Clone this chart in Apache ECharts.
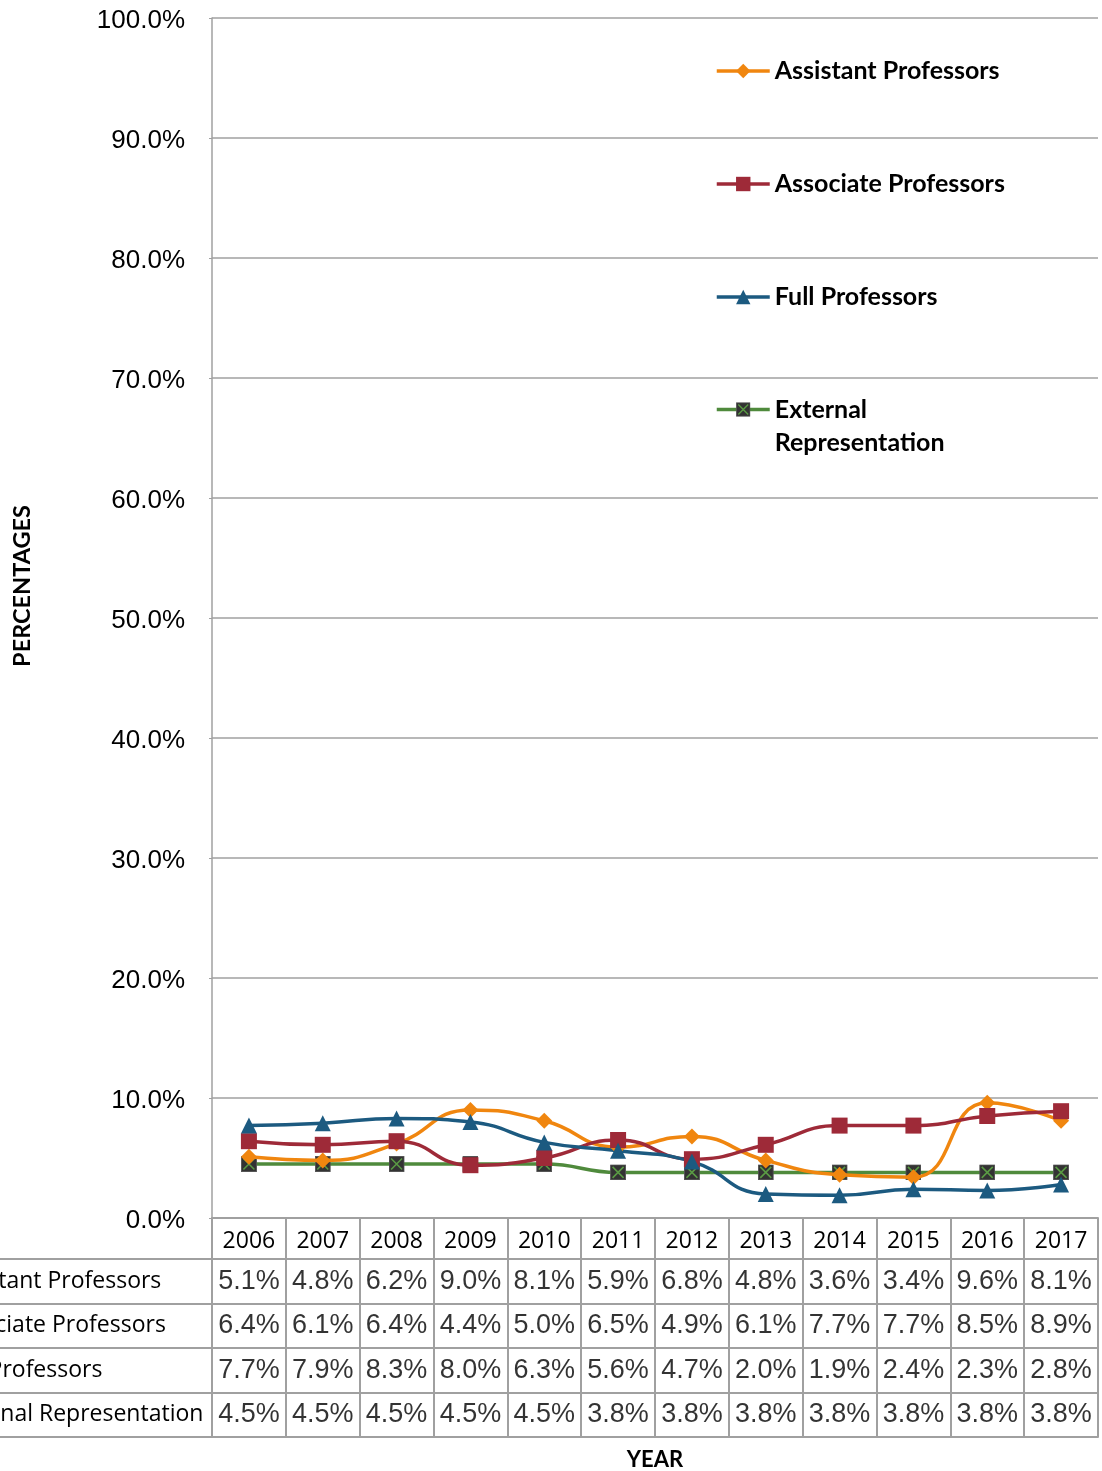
<!DOCTYPE html>
<html>
<head>
<meta charset="utf-8">
<script src="https://cdn.jsdelivr.net/npm/echarts@6/dist/echarts.min.js"></script>
<style>
  html, body { margin: 0; padding: 0; background: #fff; }
  #chart { width: 1102px; height: 1471px; }
</style>
</head>
<body>
<div id="chart"></div>
<script>
// Faculty percentages by rank, 2006–2017
const years = ['2006', '2007', '2008', '2009', '2010', '2011', '2012', '2013', '2014', '2015', '2016', '2017'];
const seriesNames = ['Assistant Professors', 'Associate Professors', 'Full Professors', 'External Representation'];
const assistant = [5.1, 4.8, 6.2, 9.0, 8.1, 5.9, 6.8, 4.8, 3.6, 3.4, 9.6, 8.1];
const associate = [6.4, 6.1, 6.4, 4.4, 5.0, 6.5, 4.9, 6.1, 7.7, 7.7, 8.5, 8.9];
const full = [7.7, 7.9, 8.3, 8.0, 6.3, 5.6, 4.7, 2.0, 1.9, 2.4, 2.3, 2.8];
const external = [4.5, 4.5, 4.5, 4.5, 4.5, 3.8, 3.8, 3.8, 3.8, 3.8, 3.8, 3.8];

const rows = [assistant, associate, full, external];
const colors = ['#F0860F', '#9E2A38', '#1C5A80', '#4F8A3C'];
const gridColor = '#a0a0a0';

// dark square crossed in green, for the external series
const xBoxSvg = "<svg xmlns='http://www.w3.org/2000/svg' width='16' height='16'>" +
  "<rect x='0.5' y='0.5' width='15' height='15' fill='#333333' stroke='#555555'/>" +
  "<path d='M2.5 2.5L13.5 13.5M13.5 2.5L2.5 13.5' stroke='#5a9a44' stroke-width='1.6'/></svg>";
const xBoxSymbol = 'image://data:image/svg+xml;charset=utf-8,' + encodeURIComponent(xBoxSvg);

const symbols = ['diamond', 'rect', 'triangle', xBoxSymbol];
const symbolSizes = [16, 16, 16, 16];

// table cells: [column, row, value]
const cells = [];
rows.forEach((arr, r) => arr.forEach((v, c) => cells.push([c, r, v])));

const chart = echarts.init(document.getElementById('chart'), null, { renderer: 'canvas' });

const lineSeries = seriesNames.map((name, i) => ({
  name,
  type: 'line',
  xAxisIndex: 0,
  yAxisIndex: 0,
  data: rows[i],
  smooth: 0.5,
  symbol: symbols[i],
  symbolSize: symbolSizes[i],
  showAllSymbol: true,
  lineStyle: { color: colors[i], width: 3.5 },
  itemStyle: { color: colors[i] },
  z: i === 3 ? 2 : 3
}));

const legendText = {
  fontFamily: 'Lato',
  fontWeight: 'bold',
  fontSize: 25,
  color: '#000',
  lineHeight: 33
};

chart.setOption({
  animation: false,
  backgroundColor: '#ffffff',
  grid: [
    { left: 212, top: 18, width: 886, height: 1200, outerBoundsMode: 'none' },
    { left: 212, top: 1259, width: 886, height: 178, outerBoundsMode: 'none' }
  ],
  legend: [
    {
      orient: 'vertical',
      left: 715,
      top: 54.5,
      padding: 0,
      itemWidth: 53,
      itemHeight: 18,
      itemGap: 80,
      lineStyle: { width: 3.5 },
      textStyle: legendText,
      data: seriesNames.slice(0, 3)
    },
    {
      orient: 'vertical',
      left: 715,
      top: 360,
      padding: 0,
      itemWidth: 53,
      itemHeight: 18,
      lineStyle: { width: 3.5 },
      // leading blank line keeps the marker level with the first word
      formatter: () => '\nExternal\nRepresentation',
      textStyle: legendText,
      data: [seriesNames[3]]
    }
  ],
  xAxis: [
    {
      type: 'category',
      gridIndex: 0,
      data: years,
      boundaryGap: true,
      axisLine: { show: true, lineStyle: { color: gridColor, width: 2 } },
      axisTick: { show: true, interval: 0, length: 41, lineStyle: { color: gridColor, width: 2 } },
      axisLabel: { interval: 0, margin: 12, fontFamily: 'Open Sans', fontSize: 23, color: '#000' },
      splitLine: { show: false }
    },
    {
      type: 'category',
      gridIndex: 1,
      data: years,
      boundaryGap: true,
      axisLine: { show: true, lineStyle: { color: gridColor, width: 2 } },
      axisTick: { show: false },
      axisLabel: { show: false },
      splitLine: { show: true, interval: 0, lineStyle: { color: gridColor, width: 2 } },
      name: 'YEAR',
      nameLocation: 'middle',
      nameGap: 12,
      nameTextStyle: { fontFamily: 'Lato', fontWeight: 'bold', fontSize: 22, color: '#000' }
    }
  ],
  yAxis: [
    {
      type: 'value',
      gridIndex: 0,
      min: 0,
      max: 100,
      interval: 10,
      axisLine: { show: true, lineStyle: { color: gridColor, width: 1.5 } },
      axisTick: { show: true, length: 3, lineStyle: { color: gridColor } },
      axisLabel: {
        formatter: v => '{v|' + v.toFixed(1) + '%}',
        margin: 27,
        rich: {
          v: {
            fontFamily: 'Liberation Sans',
            fontSize: 26,
            color: '#000',
            padding: [6, 0, 0, 0]
          }
        }
      },
      splitLine: { show: true, lineStyle: { color: gridColor, width: 1.5 } }
    },
    {
      type: 'category',
      gridIndex: 1,
      data: seriesNames,
      inverse: true,
      axisLine: { show: true, lineStyle: { color: gridColor, width: 2 } },
      axisTick: { show: true, interval: 0, length: 212, lineStyle: { color: gridColor, width: 2 } },
      axisLabel: {
        interval: 0,
        align: 'left',
        margin: 267,
        fontFamily: 'Open Sans',
        fontSize: 23,
        color: '#000'
      },
      splitLine: { show: true, interval: 0, lineStyle: { color: gridColor, width: 2 } }
    }
  ],
  graphic: [
    {
      type: 'text',
      x: 22,
      y: 586,
      rotation: Math.PI / 2,
      style: {
        text: 'PERCENTAGES',
        fontFamily: 'Lato',
        fontWeight: 'bold',
        fontSize: 23.5,
        fill: '#000',
        align: 'center',
        verticalAlign: 'middle'
      }
    }
  ],
  series: lineSeries.concat([
    {
      name: 'table',
      type: 'scatter',
      xAxisIndex: 1,
      yAxisIndex: 1,
      data: cells,
      symbolSize: 1,
      itemStyle: { color: 'transparent' },
      silent: true,
      label: {
        show: true,
        position: 'inside',
        formatter: p => p.value[2].toFixed(1) + '%',
        fontFamily: 'Liberation Sans',
        fontSize: 27,
        color: '#000',
        textBorderWidth: 0
      }
    }
  ])
});
</script>
</body>
</html>
